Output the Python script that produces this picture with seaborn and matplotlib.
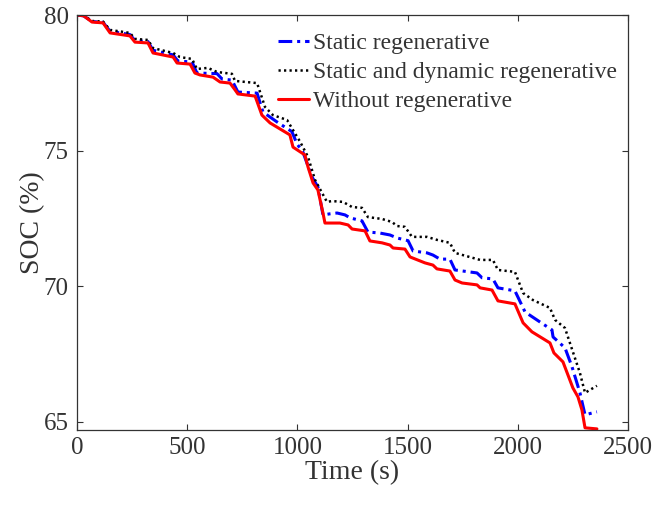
import matplotlib
matplotlib.use("Agg")
import matplotlib.pyplot as plt
import seaborn as sns
import pandas as pd

# State of charge over the drive cycle, three regenerative-braking strategies
t_static = [0, 30, 68, 118, 150, 240, 263, 322, 345, 436, 458, 522, 544, 635, 658, 703,
            730, 817, 844, 907, 975, 998, 1025, 1066, 1093, 1116, 1148, 1180, 1216, 1239,
            1293, 1320, 1375, 1420, 1452, 1502, 1525, 1588, 1615, 1647, 1692, 1715, 1815,
            1838, 1887, 1910, 1987, 2033, 2101, 2155, 2160, 2214, 2246, 2282, 2305, 2359]
soc_static = [80.0, 79.97, 79.76, 79.73, 79.40, 79.28, 79.06, 79.02, 78.70, 78.53, 78.30,
              78.27, 77.86, 77.84, 77.64, 77.60, 77.16, 77.12, 76.42, 76.06, 75.70, 75.25,
              74.95, 74.03, 73.66, 72.63, 72.67, 72.70, 72.63, 72.52, 72.41, 72.00, 71.96,
              71.89, 71.78, 71.68, 71.30, 71.23, 71.15, 71.00, 71.00, 70.60, 70.49, 70.31,
              70.27, 69.94, 69.83, 69.05, 68.68, 68.39, 68.13, 67.73, 67.03, 66.07, 65.26,
              65.37]

t_dynamic = [0, 30, 68, 118, 150, 240, 263, 322, 345, 436, 467, 522, 544, 594, 635, 703,
             717, 817, 853, 889, 953, 980, 1012, 1048, 1080, 1112, 1134, 1157, 1207, 1248,
             1293, 1320, 1384, 1429, 1452, 1488, 1520, 1588, 1633, 1692, 1715, 1829, 1887,
             1910, 1987, 2024, 2069, 2146, 2169, 2214, 2250, 2282, 2305, 2359]
soc_dynamic = [80.0, 79.98, 79.78, 79.76, 79.45, 79.34, 79.12, 79.08, 78.78, 78.60, 78.45,
               78.38, 78.01, 78.05, 77.90, 77.83, 77.57, 77.49, 76.61, 76.31, 76.13, 75.76,
               75.33, 74.77, 73.92, 73.44, 73.11, 73.14, 73.11, 72.92, 72.89, 72.55, 72.48,
               72.37, 72.22, 72.19, 71.82, 71.82, 71.71, 71.60, 71.23, 70.97, 70.97, 70.60,
               70.53, 69.75, 69.49, 69.20, 68.76, 68.46, 67.58, 66.80, 66.07, 66.33]

t_none = [0, 30, 68, 118, 150, 240, 263, 322, 345, 436, 454, 513, 535, 558, 617, 649, 694,
          717, 730, 808, 839, 876, 966, 980, 1034, 1048, 1071, 1093, 1116, 1125, 1193, 1230,
          1248, 1307, 1329, 1384, 1420, 1434, 1488, 1511, 1579, 1615, 1633, 1692, 1715, 1747,
          1815, 1829, 1883, 1910, 1987, 2024, 2064, 2146, 2164, 2205, 2250, 2273, 2291, 2305,
          2359]
soc_none = [80.0, 79.97, 79.74, 79.71, 79.34, 79.23, 79.00, 78.97, 78.60, 78.45, 78.23,
            78.19, 77.86, 77.79, 77.71, 77.53, 77.49, 77.24, 77.09, 77.01, 76.31, 76.02,
            75.58, 75.13, 74.84, 74.40, 73.81, 73.55, 72.70, 72.33, 72.33, 72.26, 72.11,
            72.04, 71.67, 71.60, 71.52, 71.41, 71.37, 71.08, 70.86, 70.78, 70.64, 70.56,
            70.23, 70.12, 70.05, 69.94, 69.86, 69.46, 69.35, 68.65, 68.32, 67.91, 67.54,
            67.21, 66.25, 65.92, 65.44, 64.78, 64.74]

labels = ["Static regenerative", "Static and dynamic regenerative", "Without regenerative"]
x_ticks = [0, 500, 1000, 1500, 2000, 2500]
y_ticks = [65, 70, 75, 80]

sns.set_theme(style="ticks")
ink = "#333333"
plt.rcParams.update({
    "font.family": ["Liberation Serif", "DejaVu Serif"],
    "text.color": ink,
    "axes.labelcolor": ink,
    "xtick.color": ink,
    "ytick.color": ink,
    "axes.edgecolor": ink,
})

fig = plt.figure(figsize=(6.56, 5.07), dpi=100)
ax = fig.add_axes([0.1174, 0.1519, 0.8399, 0.8185])

df_s = pd.DataFrame({"t": t_static, "soc": soc_static})
df_d = pd.DataFrame({"t": t_dynamic, "soc": soc_dynamic})
df_n = pd.DataFrame({"t": t_none, "soc": soc_none})

sns.lineplot(data=df_s, x="t", y="soc", ax=ax, color="#0000FF", lw=2.2,
             linestyle=(0, (4.5, 1.6, 1.0, 1.6)), label=labels[0], sort=False, estimator=None)
sns.lineplot(data=df_d, x="t", y="soc", ax=ax, color="#000000", lw=1.8,
             linestyle=(0, (0.9, 1.3)), label=labels[1], sort=False, estimator=None)
sns.lineplot(data=df_n, x="t", y="soc", ax=ax, color="#FF0000", lw=2.2,
             linestyle="-", label=labels[2], sort=False, estimator=None)

ax.set_xlim(0, 2500)
ax.set_ylim(64.7, 80)
ax.set_xticks(x_ticks)
ax.set_yticks(y_ticks)
ax.set_xlabel("Time (s)", fontsize=20, labelpad=1)
ax.set_ylabel("SOC (%)", fontsize=20, labelpad=-1)
ax.tick_params(direction="in", length=4.5, width=0.8, top=True, right=True,
               labelsize=18, pad=6)
ax.tick_params(axis="x", pad=5)
for s in ax.spines.values():
    s.set_linewidth(0.9)
    s.set_visible(True)

leg = ax.legend(loc="upper left", bbox_to_anchor=(0.364, 0.958), frameon=False,
                fontsize=17, handlelength=1.35, handletextpad=0.15, labelspacing=0.32,
                borderpad=0, borderaxespad=0)
for txt in leg.get_texts():
    txt.set_color(ink)

fig.savefig("out.png", dpi=100)
